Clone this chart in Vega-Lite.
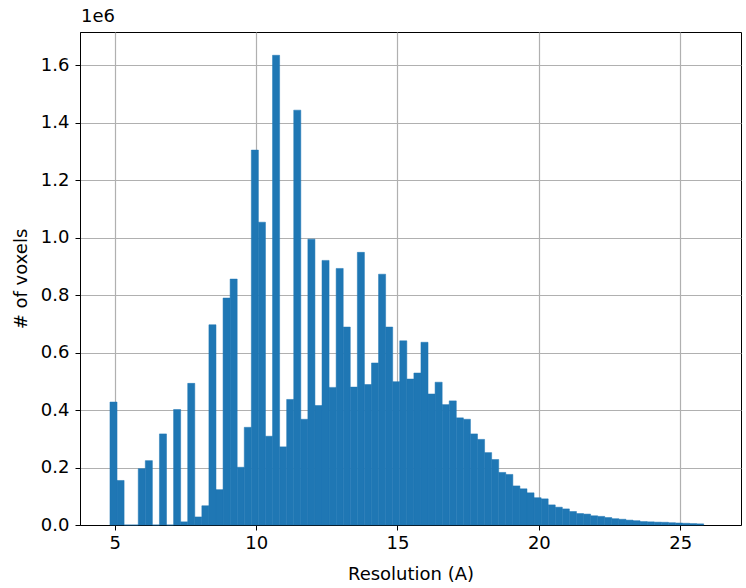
{
  "$schema": "https://vega.github.io/schema/vega-lite/v6.json",
  "width": 661,
  "height": 493,
  "autosize": {"type": "none"},
  "padding": {"left": 80, "top": 32, "right": 5, "bottom": 63},
  "background": "white",
  "title": {"text": "1e6", "anchor": "start", "frame": "group", "fontSize": 18, "font": "DejaVu Sans", "fontWeight": "normal", "color": "black", "offset": 6, "dx": 1},
  "config": {
    "view": {"stroke": "black", "strokeWidth": 1},
    "axis": {
      "labelFont": "DejaVu Sans", "labelFontSize": 18, "labelColor": "black",
      "titleFont": "DejaVu Sans", "titleFontSize": 18, "titleFontWeight": "normal", "titleColor": "black",
      "gridColor": "#b0b0b0", "gridWidth": 1.2, "gridOpacity": 1,
      "tickColor": "black", "tickSize": 5, "tickWidth": 1,
      "domainColor": "black", "domainWidth": 1,
      "zindex": 1
    }
  },
  "data": {"values": [
    {"start": 4.83, "end": 5.08, "count": 428000},
    {"start": 5.08, "end": 5.33, "count": 155000},
    {"start": 5.33, "end": 5.58, "count": 0},
    {"start": 5.58, "end": 5.83, "count": 0},
    {"start": 5.83, "end": 6.08, "count": 196000},
    {"start": 6.08, "end": 6.33, "count": 224000},
    {"start": 6.33, "end": 6.58, "count": 0},
    {"start": 6.58, "end": 6.83, "count": 317000},
    {"start": 6.83, "end": 7.08, "count": 0},
    {"start": 7.08, "end": 7.33, "count": 402000},
    {"start": 7.33, "end": 7.58, "count": 11000},
    {"start": 7.58, "end": 7.83, "count": 493000},
    {"start": 7.83, "end": 8.08, "count": 28000},
    {"start": 8.08, "end": 8.33, "count": 67000},
    {"start": 8.33, "end": 8.58, "count": 697000},
    {"start": 8.58, "end": 8.83, "count": 123000},
    {"start": 8.83, "end": 9.08, "count": 790000},
    {"start": 9.08, "end": 9.33, "count": 856000},
    {"start": 9.33, "end": 9.58, "count": 201000},
    {"start": 9.58, "end": 9.83, "count": 340000},
    {"start": 9.83, "end": 10.08, "count": 1305000},
    {"start": 10.08, "end": 10.33, "count": 1054000},
    {"start": 10.33, "end": 10.58, "count": 309000},
    {"start": 10.58, "end": 10.83, "count": 1635000},
    {"start": 10.83, "end": 11.08, "count": 272000},
    {"start": 11.08, "end": 11.33, "count": 437000},
    {"start": 11.33, "end": 11.58, "count": 1444000},
    {"start": 11.58, "end": 11.83, "count": 368000},
    {"start": 11.83, "end": 12.08, "count": 995000},
    {"start": 12.08, "end": 12.33, "count": 416000},
    {"start": 12.33, "end": 12.58, "count": 921000},
    {"start": 12.58, "end": 12.83, "count": 479000},
    {"start": 12.83, "end": 13.08, "count": 893000},
    {"start": 13.08, "end": 13.33, "count": 689000},
    {"start": 13.33, "end": 13.58, "count": 480000},
    {"start": 13.58, "end": 13.83, "count": 949000},
    {"start": 13.83, "end": 14.08, "count": 489000},
    {"start": 14.08, "end": 14.33, "count": 564000},
    {"start": 14.33, "end": 14.58, "count": 873000},
    {"start": 14.58, "end": 14.83, "count": 689000},
    {"start": 14.83, "end": 15.08, "count": 499000},
    {"start": 15.08, "end": 15.33, "count": 641000},
    {"start": 15.33, "end": 15.58, "count": 508000},
    {"start": 15.58, "end": 15.83, "count": 529000},
    {"start": 15.83, "end": 16.08, "count": 636000},
    {"start": 16.08, "end": 16.33, "count": 456000},
    {"start": 16.33, "end": 16.58, "count": 497000},
    {"start": 16.58, "end": 16.83, "count": 419000},
    {"start": 16.83, "end": 17.08, "count": 432000},
    {"start": 17.08, "end": 17.33, "count": 373000},
    {"start": 17.33, "end": 17.58, "count": 368000},
    {"start": 17.58, "end": 17.83, "count": 317000},
    {"start": 17.83, "end": 18.08, "count": 298000},
    {"start": 18.08, "end": 18.33, "count": 252000},
    {"start": 18.33, "end": 18.58, "count": 228000},
    {"start": 18.58, "end": 18.83, "count": 183000},
    {"start": 18.83, "end": 19.08, "count": 176000},
    {"start": 19.08, "end": 19.33, "count": 136000},
    {"start": 19.33, "end": 19.58, "count": 126000},
    {"start": 19.58, "end": 19.83, "count": 112000},
    {"start": 19.83, "end": 20.08, "count": 95000},
    {"start": 20.08, "end": 20.33, "count": 91000},
    {"start": 20.33, "end": 20.58, "count": 70000},
    {"start": 20.58, "end": 20.83, "count": 62000},
    {"start": 20.83, "end": 21.08, "count": 56000},
    {"start": 21.08, "end": 21.33, "count": 47000},
    {"start": 21.33, "end": 21.58, "count": 40000},
    {"start": 21.58, "end": 21.83, "count": 38000},
    {"start": 21.83, "end": 22.08, "count": 32000},
    {"start": 22.08, "end": 22.33, "count": 30000},
    {"start": 22.33, "end": 22.58, "count": 26000},
    {"start": 22.58, "end": 22.83, "count": 22000},
    {"start": 22.83, "end": 23.08, "count": 20000},
    {"start": 23.08, "end": 23.33, "count": 17000},
    {"start": 23.33, "end": 23.58, "count": 15000},
    {"start": 23.58, "end": 23.83, "count": 12000},
    {"start": 23.83, "end": 24.08, "count": 11000},
    {"start": 24.08, "end": 24.33, "count": 10000},
    {"start": 24.33, "end": 24.58, "count": 9500},
    {"start": 24.58, "end": 24.83, "count": 8000},
    {"start": 24.83, "end": 25.08, "count": 7000},
    {"start": 25.08, "end": 25.33, "count": 6000},
    {"start": 25.33, "end": 25.58, "count": 5000},
    {"start": 25.58, "end": 25.83, "count": 4000}
  ]},
  "mark": {"type": "bar", "color": "#1f77b4", "stroke": "#1f77b4", "strokeWidth": 0.5, "cornerRadius": 0},
  "encoding": {
    "x": {"field": "start", "type": "quantitative",
      "scale": {"domain": [3.77, 27.15], "nice": false, "zero": false},
      "axis": {"values": [5, 10, 15, 20, 25], "format": "d", "title": "Resolution (A)", "labelPadding": 4, "titlePadding": 13, "labelFlush": false}},
    "x2": {"field": "end"},
    "y": {"field": "count", "type": "quantitative",
      "scale": {"domain": [0, 1716000], "nice": false},
      "axis": {"values": [0, 200000, 400000, 600000, 800000, 1000000, 1200000, 1400000, 1600000],
        "labelExpr": "format(datum.value / 1000000, '.1f')", "title": "# of voxels", "labelPadding": 6, "titlePadding": 10, "labelFlush": false}},
    "y2": {"datum": 0}
  }
}
